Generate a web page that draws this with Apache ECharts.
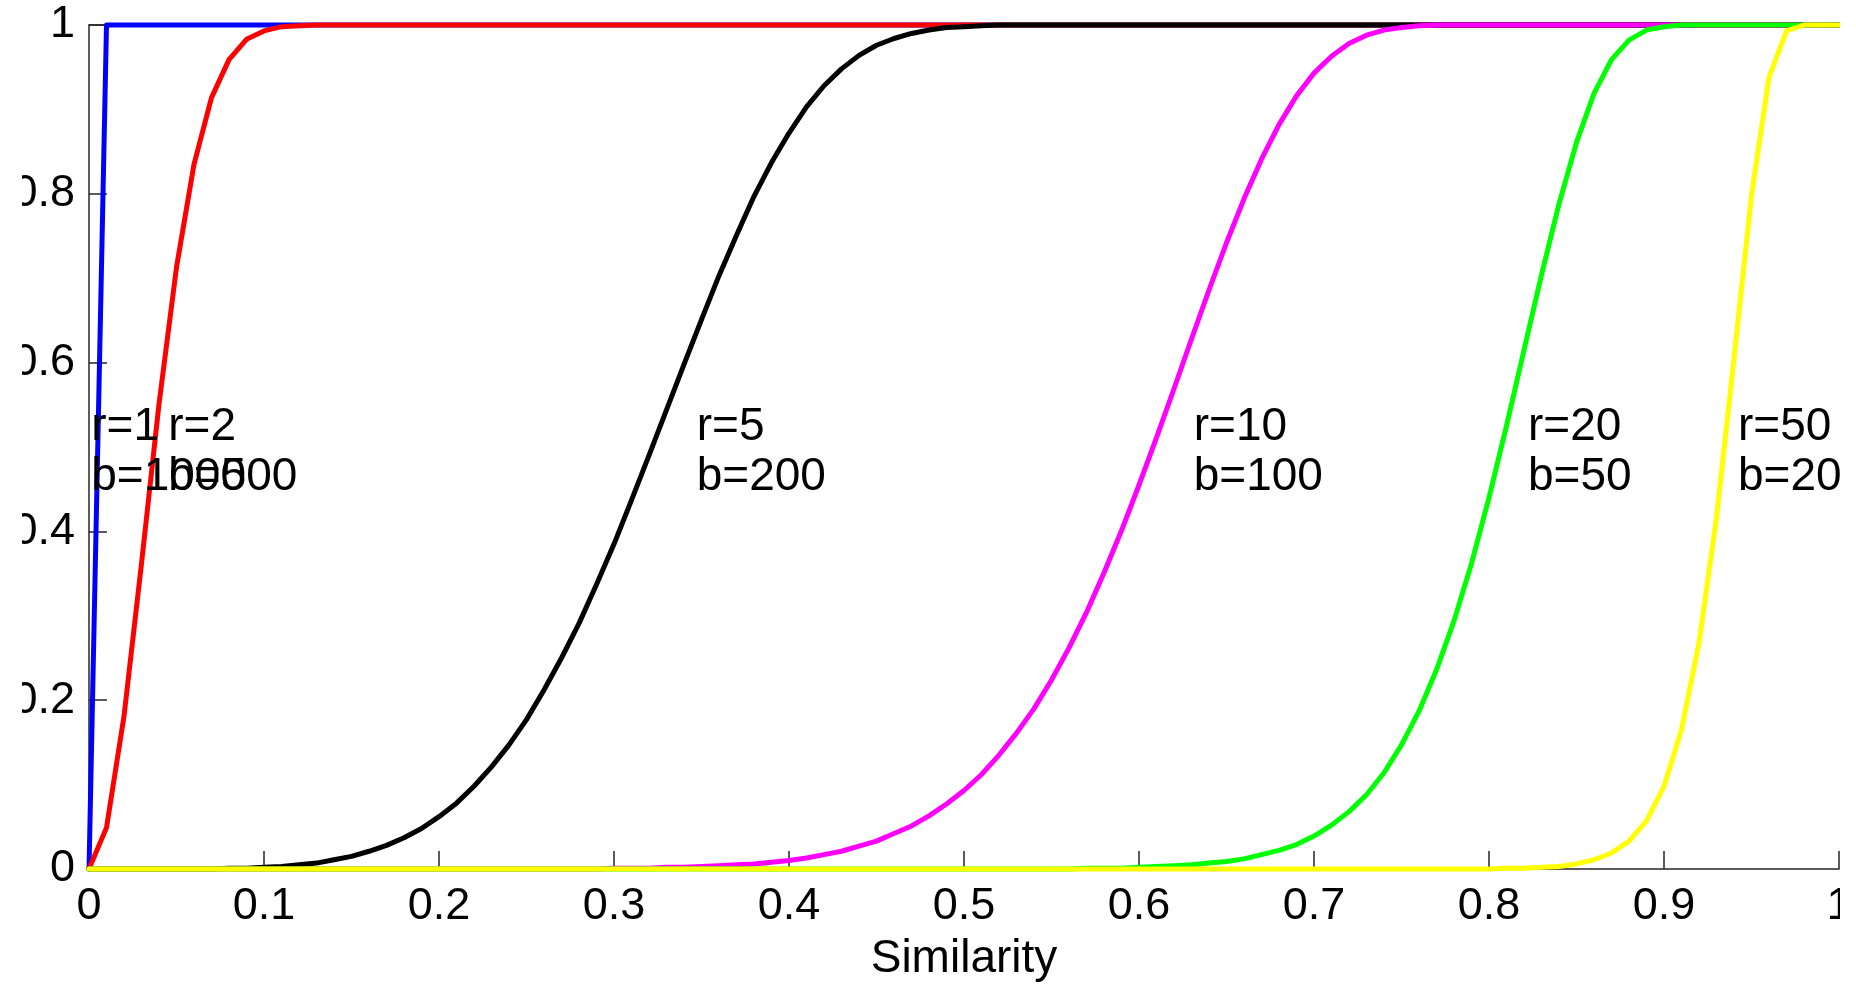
<!DOCTYPE html>
<html>
<head>
<meta charset="utf-8">
<script src="https://cdn.jsdelivr.net/npm/echarts@6/dist/echarts.min.js"></script>
<style>
  html, body { margin: 0; padding: 0; background: #fff; }
  #box { position: absolute; left: 0; top: 0; width: 1856px; height: 986px; background: #fff; }
  #chart { position: absolute; left: 22px; top: 0; width: 1818px; height: 986px; }
</style>
</head>
<body>
<div id="box"><div id="chart"></div></div>
<script>
// similarity values along the x axis
var similarity = [
  0, 0.01, 0.02, 0.03, 0.04, 0.05, 0.06, 0.07, 0.08, 0.09,
  0.1, 0.11, 0.12, 0.13, 0.14, 0.15, 0.16, 0.17, 0.18, 0.19,
  0.2, 0.21, 0.22, 0.23, 0.24, 0.25, 0.26, 0.27, 0.28, 0.29,
  0.3, 0.31, 0.32, 0.33, 0.34, 0.35, 0.36, 0.37, 0.38, 0.39,
  0.4, 0.41, 0.42, 0.43, 0.44, 0.45, 0.46, 0.47, 0.48, 0.49,
  0.5, 0.51, 0.52, 0.53, 0.54, 0.55, 0.56, 0.57, 0.58, 0.59,
  0.6, 0.61, 0.62, 0.63, 0.64, 0.65, 0.66, 0.67, 0.68, 0.69,
  0.7, 0.71, 0.72, 0.73, 0.74, 0.75, 0.76, 0.77, 0.78, 0.79,
  0.8, 0.81, 0.82, 0.83, 0.84, 0.85, 0.86, 0.87, 0.88, 0.89,
  0.9, 0.91, 0.92, 0.93, 0.94, 0.95, 0.96, 0.97, 0.98, 0.99,
  1
]

// r=1 b=1000 (blue)
var curveR1 = [
  0, 1, 1, 1, 1, 1, 1, 1, 1, 1,
  1, 1, 1, 1, 1, 1, 1, 1, 1, 1,
  1, 1, 1, 1, 1, 1, 1, 1, 1, 1,
  1, 1, 1, 1, 1, 1, 1, 1, 1, 1,
  1, 1, 1, 1, 1, 1, 1, 1, 1, 1,
  1, 1, 1, 1, 1, 1, 1, 1, 1, 1,
  1, 1, 1, 1, 1, 1, 1, 1, 1, 1,
  1, 1, 1, 1, 1, 1, 1, 1, 1, 1,
  1, 1, 1, 1, 1, 1, 1, 1, 1, 1,
  1, 1, 1, 1, 1, 1, 1, 1, 1, 1,
  1
]

// r=2 b=500 (red)
var curveR2 = [
  0, 0.049, 0.181, 0.362, 0.551, 0.713, 0.835, 0.914, 0.959, 0.983,
  0.993, 0.998, 0.999, 1, 1, 1, 1, 1, 1, 1,
  1, 1, 1, 1, 1, 1, 1, 1, 1, 1,
  1, 1, 1, 1, 1, 1, 1, 1, 1, 1,
  1, 1, 1, 1, 1, 1, 1, 1, 1, 1,
  1, 1, 1, 1, 1, 1, 1, 1, 1, 1,
  1, 1, 1, 1, 1, 1, 1, 1, 1, 1,
  1, 1, 1, 1, 1, 1, 1, 1, 1, 1,
  1, 1, 1, 1, 1, 1, 1, 1, 1, 1,
  1, 1, 1, 1, 1, 1, 1, 1, 1, 1,
  1
]

// r=5 b=200 (black)
var curveR5 = [
  0, 0, 0, 0, 0, 0, 0, 0, 0.001, 0.001,
  0.002, 0.003, 0.005, 0.007, 0.011, 0.015, 0.021, 0.028, 0.037, 0.048,
  0.062, 0.078, 0.098, 0.121, 0.147, 0.177, 0.212, 0.25, 0.291, 0.337,
  0.385, 0.437, 0.49, 0.544, 0.598, 0.651, 0.703, 0.751, 0.797, 0.837,
  0.872, 0.903, 0.928, 0.948, 0.964, 0.976, 0.984, 0.99, 0.994, 0.997,
  0.998, 0.999, 1, 1, 1, 1, 1, 1, 1, 1,
  1, 1, 1, 1, 1, 1, 1, 1, 1, 1,
  1, 1, 1, 1, 1, 1, 1, 1, 1, 1,
  1, 1, 1, 1, 1, 1, 1, 1, 1, 1,
  1, 1, 1, 1, 1, 1, 1, 1, 1, 1,
  1
]

// r=10 b=100 (magenta)
var curveR10 = [
  0, 0, 0, 0, 0, 0, 0, 0, 0, 0,
  0, 0, 0, 0, 0, 0, 0, 0, 0, 0,
  0, 0, 0, 0, 0, 0, 0, 0, 0, 0,
  0.001, 0.001, 0.001, 0.002, 0.002, 0.003, 0.004, 0.005, 0.006, 0.008,
  0.01, 0.013, 0.017, 0.021, 0.027, 0.033, 0.042, 0.051, 0.063, 0.077,
  0.093, 0.112, 0.135, 0.161, 0.19, 0.224, 0.262, 0.304, 0.351, 0.401,
  0.455, 0.511, 0.569, 0.628, 0.686, 0.742, 0.794, 0.841, 0.882, 0.916,
  0.943, 0.963, 0.978, 0.988, 0.994, 0.997, 0.999, 1, 1, 1,
  1, 1, 1, 1, 1, 1, 1, 1, 1, 1,
  1, 1, 1, 1, 1, 1, 1, 1, 1, 1,
  1
]

// r=20 b=50 (green)
var curveR20 = [
  0, 0, 0, 0, 0, 0, 0, 0, 0, 0,
  0, 0, 0, 0, 0, 0, 0, 0, 0, 0,
  0, 0, 0, 0, 0, 0, 0, 0, 0, 0,
  0, 0, 0, 0, 0, 0, 0, 0, 0, 0,
  0, 0, 0, 0, 0, 0, 0, 0, 0, 0,
  0, 0, 0, 0, 0, 0, 0, 0.001, 0.001, 0.001,
  0.002, 0.003, 0.004, 0.005, 0.007, 0.009, 0.012, 0.017, 0.022, 0.029,
  0.039, 0.052, 0.068, 0.088, 0.114, 0.147, 0.187, 0.236, 0.294, 0.362,
  0.44, 0.525, 0.615, 0.704, 0.788, 0.861, 0.919, 0.959, 0.982, 0.994,
  0.998, 1, 1, 1, 1, 1, 1, 1, 1, 1,
  1
]

// r=50 b=20 (yellow)
var curveR50 = [
  0, 0, 0, 0, 0, 0, 0, 0, 0, 0,
  0, 0, 0, 0, 0, 0, 0, 0, 0, 0,
  0, 0, 0, 0, 0, 0, 0, 0, 0, 0,
  0, 0, 0, 0, 0, 0, 0, 0, 0, 0,
  0, 0, 0, 0, 0, 0, 0, 0, 0, 0,
  0, 0, 0, 0, 0, 0, 0, 0, 0, 0,
  0, 0, 0, 0, 0, 0, 0, 0, 0, 0,
  0, 0, 0, 0, 0, 0, 0, 0, 0, 0,
  0, 0.001, 0.001, 0.002, 0.003, 0.006, 0.011, 0.019, 0.033, 0.057,
  0.098, 0.165, 0.268, 0.416, 0.605, 0.798, 0.938, 0.993, 1, 1,
  1
]

// curve labels
var labelX = [0.001, 0.045, 0.347, 0.631, 0.822, 0.942]
var labelY = [0.5, 0.5, 0.5, 0.5, 0.5, 0.5]
var labelR = [1, 2, 5, 10, 20, 50]
var labelB = [1000, 500, 200, 100, 50, 20]

var curves = [curveR1, curveR2, curveR5, curveR10, curveR20, curveR50]
var colors = ['#0000ff', '#ff0000', '#000000', '#ff00ff', '#00ff00', '#ffff00']

var font = 'Liberation Sans, Helvetica, Arial, sans-serif'

function pairs(ys) {
  return similarity.map(function (x, i) { return [x, ys[i]] })
}

var seriesOption = curves.map(function (ys, k) {
  return {
    type: 'line',
    data: pairs(ys),
    showSymbol: false,
    symbol: 'none',
    clip: false,
    silent: true,
    lineStyle: { color: colors[k], width: 5, opacity: 1, cap: 'round', join: 'round' },
    emphasis: { disabled: true },
  }
})

// text labels like r=5 / b=200
seriesOption.push({
  type: 'scatter',
  data: labelX.map(function (x, i) { return [x, labelY[i], labelR[i], labelB[i]] }),
  symbolSize: 1,
  clip: false,
  silent: true,
  z: 10,
  itemStyle: { color: '#fff', opacity: 0 },
  label: {
    show: true,
    position: 'right',
    distance: 0,
    offset: [0, 5],
    align: 'left',
    verticalAlign: 'middle',
    color: '#000',
    opacity: 1,
    fontFamily: font,
    fontSize: 46,
    lineHeight: 50,
    formatter: function (p) { return 'r=' + p.value[2] + '\nb=' + p.value[3] },
  },
})

var myChart = echarts.init(document.getElementById('chart'), null, { renderer: 'canvas' })
myChart.setOption({
  animation: false,
  backgroundColor: '#fff',
  tooltip: { show: false },
  grid: {
    left: 67,
    right: 1,
    top: 25,
    bottom: 117,
    containLabel: false,
    outerBoundsMode: 'none',
  },
  xAxis: [{
    type: 'value',
    min: 0,
    max: 1,
    interval: 0.1,
    name: 'Similarity',
    nameLocation: 'middle',
    nameGap: 67,
    nameTextStyle: { color: '#000', fontFamily: font, fontSize: 46 },
    axisLine: { show: true, onZero: false, lineStyle: { color: '#262626', width: 1.5 } },
    axisTick: { show: true, inside: true, length: 18, lineStyle: { color: '#262626', width: 1.5 } },
    axisLabel: { color: '#000', fontFamily: font, fontSize: 45, margin: 15, showMaxLabel: true, showMinLabel: true },
    splitLine: { show: false },
  }, {
    // top edge of the box
    type: 'value',
    position: 'top',
    min: 0,
    max: 1,
    axisLine: { show: true, onZero: false, lineStyle: { color: '#262626', width: 1.5 } },
    axisTick: { show: false },
    axisLabel: { show: false },
    splitLine: { show: false },
  }],
  yAxis: {
    type: 'value',
    min: 0,
    max: 1,
    interval: 0.2,
    axisLine: { show: true, onZero: false, lineStyle: { color: '#262626', width: 1.5 } },
    axisTick: { show: true, inside: true, length: 18, lineStyle: { color: '#262626', width: 1.5 } },
    axisLabel: { color: '#000', fontFamily: font, fontSize: 45, margin: 14 },
    splitLine: { show: false },
  },
  series: seriesOption,
})
</script>
</body>
</html>
